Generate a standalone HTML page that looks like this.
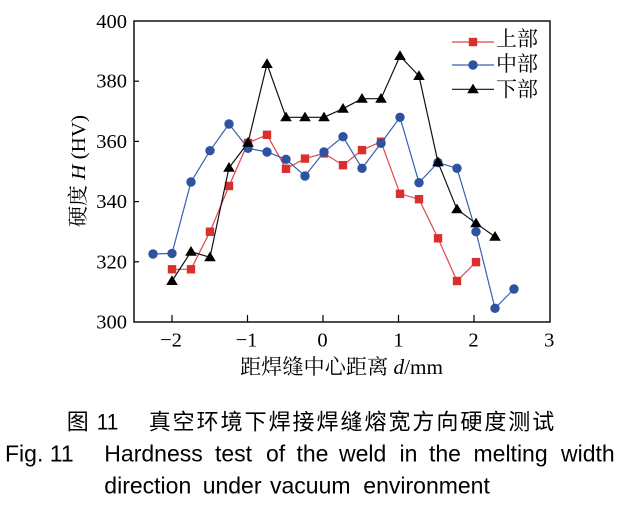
<!DOCTYPE html>
<html><head><meta charset="utf-8"><style>
html,body{margin:0;padding:0;background:#fff;}
svg{display:block;}
.serif{font-family:"Liberation Serif","Noto Serif CJK SC",serif;}
.sans{font-family:"Liberation Sans","Noto Sans CJK SC",sans-serif;}
</style></head><body>
<svg width="626" height="505" viewBox="0 0 626 505" xmlns="http://www.w3.org/2000/svg">
<rect width="626" height="505" fill="#fff"/>
<!-- ticks -->
<g stroke="#000" stroke-width="1.2">
<line x1="172" y1="322" x2="172" y2="315"/>
<line x1="247.5" y1="322" x2="247.5" y2="315"/>
<line x1="323" y1="322" x2="323" y2="315"/>
<line x1="398.5" y1="322" x2="398.5" y2="315"/>
<line x1="474" y1="322" x2="474" y2="315"/>
<line x1="134" y1="261.8" x2="139" y2="261.8"/>
<line x1="134" y1="201.6" x2="139" y2="201.6"/>
<line x1="134" y1="141.4" x2="139" y2="141.4"/>
<line x1="134" y1="81.2" x2="139" y2="81.2"/>
</g>
<rect x="134" y="21" width="416" height="301" fill="none" stroke="#000" stroke-width="1.4"/>
<!-- y tick labels -->
<g class="serif" font-size="20.5" text-anchor="end" fill="#000">
<text x="127" y="328.5">300</text>
<text x="127" y="268.3">320</text>
<text x="127" y="208.1">340</text>
<text x="127" y="147.9">360</text>
<text x="127" y="87.7">380</text>
<text x="127" y="27.8">400</text>
</g>
<!-- x tick labels -->
<g class="serif" font-size="20.5" text-anchor="middle" fill="#000">
<text x="171" y="346.7">−2</text>
<text x="246.5" y="346.7">−1</text>
<text x="322.5" y="346.7">0</text>
<text x="398.5" y="346.7">1</text>
<text x="473.5" y="346.7">2</text>
<text x="549.3" y="346.7">3</text>
</g>
<!-- axis labels -->
<text class="serif" font-size="20.5" text-anchor="middle" transform="translate(85,171) rotate(-90)" textLength="112" lengthAdjust="spacingAndGlyphs">硬度 <tspan font-style="italic">H</tspan> (HV)</text>
<text class="serif" font-size="21" x="240" y="374" textLength="203" lengthAdjust="spacingAndGlyphs">距焊缝中心距离 <tspan font-style="italic">d</tspan>/mm</text>

<!-- red series -->
<polyline fill="none" stroke="#e04545" stroke-width="1.2" points="172,269.3 191,269.3 210,231.7 229,186 248,142.9 267,134.8 286,168.8 305,158.6 324,153.4 343,165.2 362,150.1 381,141.7 400,193.8 419,199.2 438,238.3 457,281 476,262.1"/>
<g fill="#d9302e">
<rect x="167.8" y="265.1" width="8.4" height="8.4"/>
<rect x="186.8" y="265.1" width="8.4" height="8.4"/>
<rect x="205.8" y="227.5" width="8.4" height="8.4"/>
<rect x="224.8" y="181.8" width="8.4" height="8.4"/>
<rect x="243.8" y="138.7" width="8.4" height="8.4"/>
<rect x="262.8" y="130.6" width="8.4" height="8.4"/>
<rect x="281.8" y="164.6" width="8.4" height="8.4"/>
<rect x="300.8" y="154.4" width="8.4" height="8.4"/>
<rect x="319.8" y="149.2" width="8.4" height="8.4"/>
<rect x="338.8" y="161" width="8.4" height="8.4"/>
<rect x="357.8" y="145.9" width="8.4" height="8.4"/>
<rect x="376.8" y="137.5" width="8.4" height="8.4"/>
<rect x="395.8" y="189.6" width="8.4" height="8.4"/>
<rect x="414.8" y="195" width="8.4" height="8.4"/>
<rect x="433.8" y="234.1" width="8.4" height="8.4"/>
<rect x="452.8" y="276.8" width="8.4" height="8.4"/>
<rect x="471.8" y="257.9" width="8.4" height="8.4"/>
</g>

<!-- blue series -->
<polyline fill="none" stroke="#3a60ad" stroke-width="1.2" points="153,254 172,253.4 191,182 210,150.7 229,124 248,148.3 267,152 286,159.3 305,176 324,152 343,136.7 362,168.3 381,143.3 400,117.3 419,182.7 438,162.5 457,168.3 476,231.7 495,308.3 514,289"/>
<g fill="#2c52a0">
<circle cx="153" cy="254" r="4.7"/>
<circle cx="172" cy="253.4" r="4.7"/>
<circle cx="191" cy="182" r="4.7"/>
<circle cx="210" cy="150.7" r="4.7"/>
<circle cx="229" cy="124" r="4.7"/>
<circle cx="248" cy="148.3" r="4.7"/>
<circle cx="267" cy="152" r="4.7"/>
<circle cx="286" cy="159.3" r="4.7"/>
<circle cx="305" cy="176" r="4.7"/>
<circle cx="324" cy="152" r="4.7"/>
<circle cx="343" cy="136.7" r="4.7"/>
<circle cx="362" cy="168.3" r="4.7"/>
<circle cx="381" cy="143.3" r="4.7"/>
<circle cx="400" cy="117.3" r="4.7"/>
<circle cx="419" cy="182.7" r="4.7"/>
<circle cx="438" cy="162.5" r="4.7"/>
<circle cx="457" cy="168.3" r="4.7"/>
<circle cx="476" cy="231.7" r="4.7"/>
<circle cx="495" cy="308.3" r="4.7"/>
<circle cx="514" cy="289" r="4.7"/>
</g>

<!-- black series -->
<polyline fill="none" stroke="#111" stroke-width="1.2" points="172,281 191,251.7 210,257.3 229,167.7 248,142.7 267,64 286,117.3 305,117.3 324,117.3 343,108.7 362,98.7 381,98.7 400,56 419,76 438,162.3 457,209.3 476,223.3 495,236.7"/>
<g fill="#000">
<polygon points="172,275.3 166.2,285 177.8,285"/>
<polygon points="191,246 185.2,255.7 196.8,255.7"/>
<polygon points="210,251.6 204.2,261.3 215.8,261.3"/>
<polygon points="229,162 223.2,171.7 234.8,171.7"/>
<polygon points="248,137 242.2,146.7 253.8,146.7"/>
<polygon points="267,58.3 261.2,68 272.8,68"/>
<polygon points="286,111.6 280.2,121.3 291.8,121.3"/>
<polygon points="305,111.6 299.2,121.3 310.8,121.3"/>
<polygon points="324,111.6 318.2,121.3 329.8,121.3"/>
<polygon points="343,103 337.2,112.7 348.8,112.7"/>
<polygon points="362,93 356.2,102.7 367.8,102.7"/>
<polygon points="381,93 375.2,102.7 386.8,102.7"/>
<polygon points="400,50.3 394.2,60 405.8,60"/>
<polygon points="419,70.3 413.2,80 424.8,80"/>
<polygon points="438,156.6 432.2,166.3 443.8,166.3"/>
<polygon points="457,203.6 451.2,213.3 462.8,213.3"/>
<polygon points="476,217.6 470.2,227.3 481.8,227.3"/>
<polygon points="495,231 489.2,240.7 500.8,240.7"/>
</g>

<!-- legend -->
<line x1="452" y1="42" x2="494" y2="42" stroke="#e04545" stroke-width="1.2"/>
<rect x="468.8" y="37.8" width="8.4" height="8.4" fill="#d9302e"/>
<line x1="452" y1="65" x2="494" y2="65" stroke="#3a60ad" stroke-width="1.2"/>
<circle cx="473" cy="65" r="4.7" fill="#2c52a0"/>
<line x1="452" y1="89.3" x2="494" y2="89.3" stroke="#111" stroke-width="1.2"/>
<polygon points="473,83.6 467.2,93.3 478.8,93.3" fill="#000"/>
<g class="serif" font-size="21" fill="#000">
<text x="496" y="46">上部</text>
<text x="496" y="71">中部</text>
<text x="496" y="96.5">下部</text>
</g>

<!-- captions -->
<g class="sans" fill="#000">
<text x="66.7" y="429.5" font-size="22">图</text>
<text x="96.7" y="429.5" font-size="22" textLength="21.6" lengthAdjust="spacingAndGlyphs">11</text>
<text x="148.7" y="429.5" font-size="22" textLength="405.6" lengthAdjust="spacing">真空环境下焊接焊缝熔宽方向硬度测试</text>
<g font-size="23">
<text x="5" y="461.7">Fig. 11</text>
<text x="104.3" y="461.7">Hardness</text>
<text x="215" y="461.7">test</text>
<text x="266" y="461.7">of</text>
<text x="296.5" y="461.7">the</text>
<text x="339" y="461.7">weld</text>
<text x="399.5" y="461.7">in</text>
<text x="429" y="461.7">the</text>
<text x="473.5" y="461.7">melting</text>
<text x="561" y="461.7">width</text>
<text x="104.3" y="493.3">direction</text>
<text x="202.7" y="493.3">under</text>
<text x="270" y="493.3">vacuum</text>
<text x="363.3" y="493.3">environment</text>
</g>
</g>
</svg>
</body></html>
